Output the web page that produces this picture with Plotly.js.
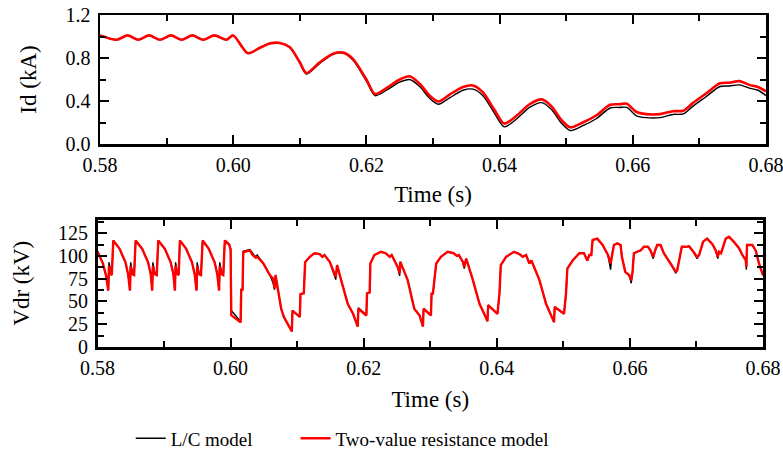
<!DOCTYPE html>
<html>
<head>
<meta charset="utf-8">
<script src="https://cdn.plot.ly/plotly-3.0.1.min.js"></script>
<style>html,body{margin:0;padding:0;background:#fff;}#chart{width:783px;height:452px;}</style>
</head>
<body>
<div id="chart"></div>
<script>
// ---- Id (kA) ----
const idTime = [0.5800,0.5825,0.58415,0.58575,0.58736,0.5890,0.59066,0.59226,0.59386,0.5955,0.59716,0.5990,0.6000,
  0.6022,0.6040,0.6055,0.6070,0.6085,0.6100,0.6110,0.6130,0.6150,0.6165,0.6180,0.6200,0.6213,
  0.6230,0.6250,0.6265,0.6280,0.6295,0.6308,0.6325,0.6345,0.6360,0.6375,0.6392,0.6407,
  0.6425,0.6445,0.6463,0.6478,0.6492,0.6506,0.6525,0.6545,0.6566,0.6580,0.6591,0.6605,
  0.6620,0.6641,0.6660,0.6676,0.6690,0.6710,0.6731,0.6745,0.6760,0.6775,0.6788,0.6800];
const idTwoValue = [1.01,0.97,1.01,0.97,1.01,0.97,1.01,0.97,1.01,0.97,1.01,0.97,1.01,
  0.845,0.895,0.935,0.94,0.90,0.76,0.66,0.76,0.84,0.85,0.79,0.60,0.465,
  0.52,0.60,0.63,0.56,0.45,0.395,0.46,0.53,0.545,0.48,0.32,0.19,
  0.26,0.37,0.415,0.35,0.23,0.155,0.20,0.265,0.365,0.37,0.375,0.30,
  0.278,0.278,0.305,0.31,0.38,0.47,0.565,0.57,0.585,0.55,0.53,0.49];
const idLC = [1.01,0.97,1.01,0.97,1.01,0.97,1.01,0.97,1.01,0.97,1.01,0.97,1.01,
  0.845,0.895,0.935,0.94,0.90,0.755,0.65,0.75,0.835,0.845,0.78,0.585,0.45,
  0.50,0.575,0.60,0.535,0.425,0.37,0.43,0.50,0.51,0.45,0.29,0.16,
  0.23,0.34,0.385,0.32,0.20,0.125,0.17,0.235,0.335,0.34,0.34,0.265,
  0.245,0.245,0.275,0.28,0.35,0.44,0.535,0.54,0.55,0.52,0.50,0.45];

// ---- Vdr (kV) ----
const vdrTime = [0.58000,0.58080,0.58130,0.58162,0.58172,0.58200,0.58215,0.58237,
  0.58330,0.58420,0.58460,0.58488,0.58498,0.58525,0.58550,0.58573,
  0.58670,0.58760,0.58800,0.58822,0.58832,0.58860,0.58890,0.58913,
  0.59010,0.59100,0.59140,0.59163,0.59173,0.59200,0.59220,0.59238,
  0.59330,0.59420,0.59460,0.59488,0.59498,0.59525,0.59555,0.59580,
  0.59670,0.59760,0.59800,0.59827,0.59837,0.59865,0.59890,0.59913,
  0.59980,0.60000,0.60010,0.60150,0.60160,0.60180,0.60190,0.60290,0.60330,0.60350,0.60380,0.60400,
  0.60440,0.60490,0.60590,0.60640,0.60660,0.60675,0.60760,0.60800,0.60920,0.60930,0.61040,0.61050,
  0.61100,0.61120,0.61190,0.61260,0.61340,0.61380,0.61410,0.61490,0.61580,0.61600,0.61660,0.61760,
  0.61840,0.61910,0.61920,0.62040,0.62050,0.62090,0.62100,0.62160,0.62260,0.62330,0.62390,0.62420,
  0.62510,0.62540,0.62550,0.62660,0.62760,0.62840,0.62890,0.62900,0.63010,0.63020,0.63040,0.63090,
  0.63160,0.63260,0.63350,0.63400,0.63430,0.63490,0.63510,0.63540,0.63640,0.63740,0.63810,0.63860,
  0.63870,0.64010,0.64040,0.64060,0.64140,0.64260,0.64340,0.64390,0.64440,0.64490,0.64520,0.64640,
  0.64740,0.64810,0.64860,0.64870,0.65010,0.65040,0.65060,0.65140,0.65240,0.65310,0.65360,0.65390,
  0.65420,0.65440,0.65510,0.65590,0.65670,0.65710,0.65730,0.65760,0.65810,0.65860,0.65880,0.65930,
  0.65990,0.66020,0.66040,0.66060,0.66110,0.66160,0.66210,0.66270,0.66310,0.66350,0.66380,0.66410,
  0.66460,0.66510,0.66610,0.66690,0.66710,0.66740,0.66780,0.66840,0.66890,0.66940,0.67010,0.67040,
  0.67100,0.67160,0.67240,0.67290,0.67320,0.67340,0.67370,0.67440,0.67490,0.67560,0.67640,0.67690,
  0.67740,0.67750,0.67760,0.67840,0.67890,0.67940,0.68000];
const vdrTwoValue = [105,92,78,62,89,80,79,117,
  108,93,80,62,89,80,79,117,
  108,93,80,62,89,80,79,117,
  108,93,80,62,89,80,79,117,
  108,93,80,62,89,80,79,117,
  108,93,80,62,89,80,79,117,
  112,107,35,27,63,63,104,106,101,100,98,99,
  96,92,79,75,64,79,42,33,17,40,33,58,
  59,93,99,103,102,99,101,93.5,77,90,73.7,47.5,
  36.5,22.5,42,34.6,59,60,91.7,101,104.6,103,99,101,
  88,81,93.5,73.7,42,34.6,22.5,42,34.6,58.6,58.6,91.7,
  99,104.6,103,100,101,93.5,88,97,73.7,47.5,36.5,28.4,
  46,36.5,58.6,90,99,104.6,102,99,101,91.7,95,73.7,
  47.5,36.5,27.3,44,36.5,58.6,86,95,103,103,95,101,
  101,117.5,119,112,101,91.7,101,112,113.8,112,99,82.5,
  78.8,73.3,82.5,103,104.6,106,110,110,106,99,106,112,
  112,103,91.7,82.5,84,95,110,110,110.5,106,99,101,
  115.7,119,113,106,99,104.6,103,119,121,115.7,108.5,101,
  95.4,88,112,112,106,91.7,78.8];
const vdrLC = [105,92,78,62,93,81,79,117,
  108,93,80,62,93,81,79,117,
  108,93,80,62,93,81,79,117,
  108,93,80,62,93,81,79,117,
  108,93,80,62,93,81,79,117,
  108,93,80,62,93,81,79,117,
  113,108,40,28,63,63,105,107,102,101,99,101,
  97,92,79,70,63,79,42,33,17,40,33,58,
  59,93,99,103,102,99,101,93.5,74,90,73.7,47.5,
  36.5,22.5,43,35,59,60,91.7,101,104.6,103,99,101,
  88,78,93.5,73.7,42,34.6,22.5,42,34.6,58.6,58.6,91.7,
  99,104.6,103,100,101,93.5,86,97,73.7,47.5,36.5,28.4,
  46,36.5,58.6,90,99,104.6,102,99,101,91.7,95,73.7,
  47.5,36.5,27.3,44,36.5,58.6,86,95,103,103,95,101,
  101,117.5,119,112,101,85,101,112,113.8,112,99,82.5,
  78.8,70,82.5,103,104.6,106,110,110,106,97,106,112,
  112,103,91.7,81,84,95,110,110,110.5,106,97,101,
  115.7,119,113,106,97,104.6,103,119,121,115.7,108.5,101,
  95.4,85,112,112,106,91.7,78.8];

const xTickVals = [0.58,0.60,0.62,0.64,0.66,0.68];
const seriesNames = ['L/C model', 'Two-value resistance model'];

const font = 'Liberation Serif, Times New Roman, serif';
const pad = '\u00a0'.repeat(8);
const traces = [
  {x: idTime, y: idLC, xaxis:'x', yaxis:'y', mode:'lines', name:seriesNames[0] + pad,
   line:{color:'#000000', width:1.4, shape:'spline', smoothing:0.8}, showlegend:true},
  {x: idTime, y: idTwoValue, xaxis:'x', yaxis:'y', mode:'lines', name:seriesNames[1],
   line:{color:'#ff0000', width:2.6, shape:'spline', smoothing:0.8}, showlegend:true},
  {x: vdrTime, y: vdrLC, xaxis:'x2', yaxis:'y2', mode:'lines', name:seriesNames[0],
   line:{color:'#000000', width:1.4}, showlegend:false},
  {x: vdrTime, y: vdrTwoValue, xaxis:'x2', yaxis:'y2', mode:'lines', name:seriesNames[1],
   line:{color:'#ff0000', width:2.4}, showlegend:false}
];

const tickFont = {family:font, size:20, color:'#000'};
const titleFont = {family:font, size:23, color:'#000'};
const axBase = {
  showline:true, linecolor:'#000', linewidth:2.5, mirror:'ticks',
  ticks:'inside', ticklen:9, tickwidth:2, tickcolor:'#000',
  showgrid:false, zeroline:false, ticklabeloverflow:'allow',
  tickfont:tickFont
};
const minorBase = {ticks:'inside', ticklen:6, tickwidth:2, tickcolor:'#000'};

const layout = {
  width:783, height:452,
  margin:{l:0, r:0, t:0, b:0, autoexpand:false},
  paper_bgcolor:'#fff', plot_bgcolor:'#fff',
  showlegend:true,
  legend:{orientation:'h', x:0.167, y:0.03, xanchor:'left', yanchor:'middle',
    font:{family:font, size:19, color:'#000'}, bgcolor:'rgba(0,0,0,0)',
    itemwidth:30, tracegroupgap:0},
  xaxis: Object.assign({}, axBase, {
    domain:[100/783, 766/783], anchor:'y', range:[0.58,0.68],
    tickvals:xTickVals, tickformat:'.2f', ticklabelstandoff:1,
    minor:Object.assign({dtick:0.01}, minorBase),
    title:{text:'Time (s)', font:titleFont, standoff:12}
  }),
  yaxis: Object.assign({}, axBase, {
    domain:[(452-144)/452, (452-15)/452], anchor:'x', range:[0,1.2],
    tick0:0, dtick:0.4, tickformat:'.1f', ticklabelstandoff:3,
    minor:Object.assign({dtick:0.2}, minorBase),
    title:{text:'Id (kA)', font:titleFont, standoff:23}
  }),
  xaxis2: Object.assign({}, axBase, {
    domain:[97.5/783, 763/783], anchor:'y2', range:[0.58,0.68],
    tickvals:xTickVals, tickformat:'.2f', ticklabelstandoff:1,
    minor:Object.assign({dtick:0.01}, minorBase),
    title:{text:'Time (s)', font:titleFont, standoff:14}
  }),
  yaxis2: Object.assign({}, axBase, {
    domain:[(452-347)/452, (452-219.5)/452], anchor:'x2', range:[0,140],
    tickvals:[0,25,50,75,100,125], ticklabelstandoff:3,
    minor:Object.assign({tickvals:[12.5,37.5,62.5,87.5,112.5,137.5]}, minorBase),
    title:{text:'Vdr (kV)', font:titleFont, standoff:22}
  })
};

Plotly.newPlot('chart', traces, layout, {staticPlot:true, displayModeBar:false});
</script>
</body>
</html>
